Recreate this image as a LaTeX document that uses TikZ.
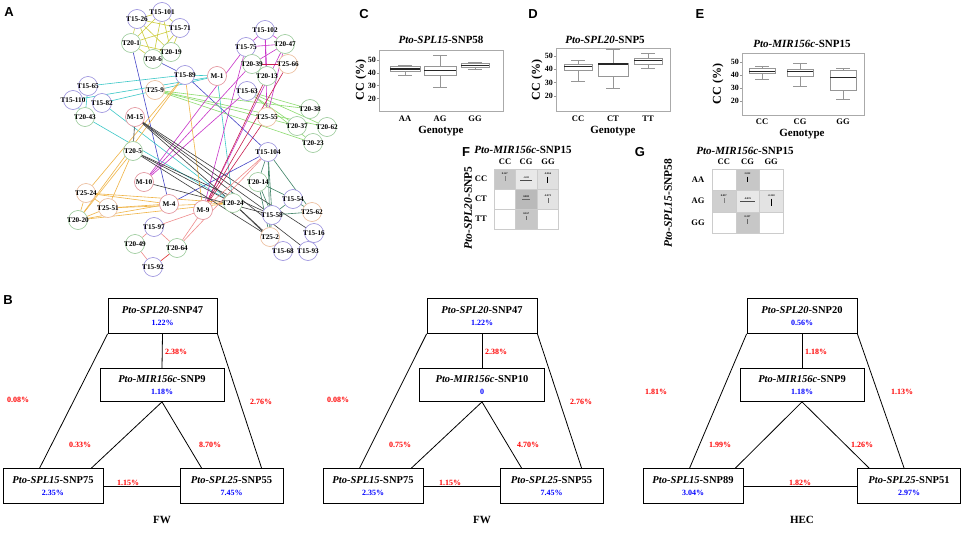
\documentclass[tikz,border=0pt]{standalone}
\usepackage{fontspec}
\setmainfont{Liberation Serif}
\newfontfamily\pan{Liberation Sans}
\usetikzlibrary{calc}
\pgfdeclarelayer{bg}\pgfdeclarelayer{edges}
\pgfsetlayers{bg,edges,main}
\definecolor{c15}{RGB}{150,140,220}
\definecolor{c20}{RGB}{150,200,150}
\definecolor{c25}{RGB}{235,185,150}
\definecolor{cM}{RGB}{225,140,150}
\definecolor{colY}{RGB}{205,205,60}
\definecolor{colB}{RGB}{70,70,200}
\definecolor{colC}{RGB}{60,200,200}
\definecolor{colG}{RGB}{140,220,110}
\definecolor{colM}{RGB}{200,50,200}
\definecolor{colR}{RGB}{200,30,80}
\definecolor{colO}{RGB}{240,180,70}
\definecolor{colK}{RGB}{60,60,60}
\definecolor{colT}{RGB}{60,130,100}
\definecolor{colP}{RGB}{240,140,140}
\definecolor{colRR}{RGB}{220,40,40}
\definecolor{pblue}{RGB}{0,0,255}
\definecolor{pred}{RGB}{255,0,0}
\definecolor{frame}{RGB}{170,170,170}
\definecolor{boxg}{RGB}{150,150,150}
\tikzset{
 nd/.style={circle,minimum size=19pt,inner sep=0pt,fill=white,line width=0.6pt,font=\fontsize{7.2}{8}\selectfont\bfseries},
 a15/.style={nd,draw=c15}, a20/.style={nd,draw=c20}, a25/.style={nd,draw=c25}, aM/.style={nd,draw=cM},
 ed/.style={line width=0.6pt},
 eY/.style={ed,draw=colY}, eB/.style={ed,draw=colB}, eC/.style={ed,draw=colC},
 eG/.style={ed,draw=colG}, eM/.style={ed,draw=colM}, eR/.style={ed,draw=colR},
 eO/.style={ed,draw=colO}, eK/.style={ed,draw=colK}, eT/.style={ed,draw=colT},
 eP/.style={ed,draw=colP}, eRR/.style={ed,draw=colRR},
 plab/.style={font=\pan\bfseries\fontsize{13}{14}\selectfont},
 ttl/.style={font=\fontsize{11}{12}\selectfont\bfseries},
 tick/.style={font=\fontsize{8}{9}\selectfont\bfseries,inner sep=1pt},
 glab/.style={font=\fontsize{8.5}{9}\selectfont\bfseries},
 axl/.style={font=\fontsize{11}{12}\selectfont\bfseries},
 ylab/.style={font=\fontsize{12}{13}\selectfont\bfseries,rotate=90},
 ylab2/.style={font=\fontsize{11.5}{13}\selectfont\bfseries,rotate=90},
 pframe/.style={draw=frame,line width=0.6pt},
 whisk/.style={draw=boxg,line width=0.5pt},
 boxl/.style={draw=boxg,line width=0.6pt,fill=white},
 medl/.style={draw=black!85,line width=1.1pt},
 cell/.style={draw=black!20,line width=0.4pt},
 tiny/.style={font=\fontsize{2.6}{3}\selectfont\bfseries,inner sep=0pt},
 hlab/.style={font=\fontsize{8.5}{9}\selectfont\bfseries},
 bx/.style={draw,line width=0.8pt,inner sep=1pt,align=center,font=\fontsize{10.5}{12}\selectfont\bfseries},
 pr/.style={text=pred,font=\fontsize{8}{9}\selectfont\bfseries,inner sep=0pt},
 tl/.style={line width=0.8pt},
}
\newcommand\anode[5]{\node[#4] (#1) at (#2,#3) {\makebox[0pt]{#5}};}
\newcommand\bxp[7]{%
 \draw[whisk] (#1,#3) -- (#1,#4) (#1,#6) -- (#1,#7);
 \draw[whisk] ({#1-7},#3) -- ({#1+7},#3) ({#1-7},#7) -- ({#1+7},#7);
 \draw[boxl] ({#1-#2},#4) rectangle ({#1+#2},#6);
 \draw[medl] ({#1-#2},#5) -- ({#1+#2},#5);}
\newcommand\gn[2]{\textit{#1}-#2}
\newcommand\bv[1]{\\[0pt]{\fontsize{8}{9}\selectfont\color{pblue}#1}}
\begin{document}
\begin{tikzpicture}[x=1pt,y=-1pt]
\begin{pgfonlayer}{bg}
\fill[white] (0,0) rectangle (964,546);
\end{pgfonlayer}
\useasboundingbox (0,0) rectangle (964,546);
% ---------------- Panel labels
\node[plab] (LA) at (9,12) {A};
\node[plab] (LB) at (8,300) {B};
\node[plab] (LC) at (364,14) {C};
\node[plab] (LD) at (533,14) {D};
\node[plab] (LE) at (700,14) {E};
\node[plab] (LF) at (466,152) {F};
\node[plab] (LG) at (640,152) {G};
% ---------------- Panel A nodes
\anode{t1526}{137}{19}{a15}{T15-26}
\anode{t15101}{162}{12}{a15}{T15-101}
\anode{t1571}{180}{28}{a15}{T15-71}
\anode{t201}{131}{43}{a20}{T20-1}
\anode{t2019}{171}{52}{a20}{T20-19}
\anode{t206}{153}{59}{a20}{T20-6}
\anode{t1589}{185}{75}{a15}{T15-89}
\anode{m1}{217}{76}{aM}{M-1}
\anode{t259}{155}{90}{a25}{T25-9}
\anode{t1565}{88}{86}{a15}{T15-65}
\anode{t15110}{73}{100}{a15}{T15-110}
\anode{t1582}{102}{103}{a15}{T15-82}
\anode{t2043}{85}{117}{a20}{T20-43}
\anode{m15}{135}{117}{aM}{M-15}
\anode{t15102}{265}{30}{a15}{T15-102}
\anode{t1575}{246}{47}{a15}{T15-75}
\anode{t2047}{285}{44}{a20}{T20-47}
\anode{t2039}{252}{64}{a20}{T20-39}
\anode{t2566}{288}{64}{a25}{T25-66}
\anode{t2013}{267}{76}{a20}{T20-13}
\anode{t1563}{247}{91}{a15}{T15-63}
\anode{t2555}{267}{117}{a25}{T25-55}
\anode{t2038}{310}{109}{a20}{T20-38}
\anode{t2037}{297}{126}{a20}{T20-37}
\anode{t2062}{327}{127}{a20}{T20-62}
\anode{t2023}{313}{143}{a20}{T20-23}
\anode{t15104}{268}{152}{a15}{T15-104}
\anode{t205}{133}{151}{a20}{T20-5}
\anode{m10}{144}{182}{aM}{M-10}
\anode{t2524}{86}{193}{a25}{T25-24}
\anode{t2551}{108}{208}{a25}{T25-51}
\anode{t2020}{78}{220}{a20}{T20-20}
\anode{m4}{169}{204}{aM}{M-4}
\anode{t1597}{154}{227}{a15}{T15-97}
\anode{t2049}{135}{244}{a20}{T20-49}
\anode{t2064}{177}{248}{a20}{T20-64}
\anode{t1592}{153}{267}{a15}{T15-92}
\anode{t2014}{258}{182}{a20}{T20-14}
\anode{m9}{203}{210}{aM}{M-9}
\anode{t2024}{233}{203}{a20}{T20-24}
\anode{t1554}{293}{199}{a15}{T15-54}
\anode{t2562}{312}{212}{a25}{T25-62}
\anode{t1558}{272}{215}{a15}{T15-58}
\anode{t1516}{314}{233}{a15}{T15-16}
\anode{t252}{270}{237}{a25}{T25-2}
\anode{t1568}{283}{251}{a15}{T15-68}
\anode{t1593}{308}{251}{a15}{T15-93}
% ---------------- Panel A edges
\begin{pgfonlayer}{edges}
\foreach \a/\b in {t1526/t15101,t1526/t1571,t1526/t201,t1526/t2019,t1526/t206,t15101/t1571,t15101/t201,t15101/t2019,t15101/t206,t1571/t201,t1571/t2019,t1571/t206,t201/t2019,t201/t206,t2019/t206}
  \draw[eY] (\a) -- (\b);
\foreach \a/\b in {t201/m4,t206/t1589,t1589/t15104,m4/t15104}
  \draw[eB] (\a) -- (\b);
\foreach \a/\b in {t1565/t1589,t15110/m1,t1582/m1,t1589/m1,t1565/t2043,t15110/t2043,t1582/t2024,t2043/t2024,m1/t2024}
  \draw[eC] (\a) -- (\b);
\foreach \a/\b in {t259/t2038,t259/t2037,t259/t2062,t259/t2023,t1563/t2038,t1563/t2037,t1563/t2062,t1563/t2023}
  \draw[eG] (\a) -- (\b);
\foreach \a/\b in {t15102/t1575,t15102/t2047,t1575/t2047,t2039/t2047,t15102/t2013,t2047/t2555,t15102/t2555,t1575/m10,t1563/m10,t2039/m10,t1575/m9,t2047/m9}
  \draw[eM] (\a) -- (\b);
\foreach \a/\b in {t2039/t2566,t2566/m9,t2013/m9,t2555/m9}
  \draw[eR] (\a) -- (\b);
\foreach \a/\b in {t1589/t2524,t1589/t2020,t1589/m9,t205/t2020,t205/t2551,t2524/t2020,t2524/t2551,t2551/t2020,t2524/m4,t2524/t2024,t2551/m4,t2551/t2024,t2020/m4,t2020/t2024}
  \draw[eO] (\a) -- (\b);
\foreach \a/\b in {m15/t205,m15/t2024,m15/t1558,m15/t1516,m15/t1593,t205/t1558,t205/t252,t205/t2024,m10/t1558,t2024/t252,t2024/t1568}
  \draw[eK] (\a) -- (\b);
\foreach \a/\b in {t15104/t2014,t15104/t1558,t15104/t2562,t15104/t252,t2014/t1554,t2014/t1558,t2014/t252,t1554/t2562,t1558/t2562,t1558/t252,t1554/t1558}
  \draw[eT] (\a) -- (\b);
\foreach \a/\b in {t1597/t2049,t1597/t2064,t2049/t1592,t1597/m9,t2064/m9,t2064/t15104,m9/t15104}
  \draw[eP] (\a) -- (\b);
\draw[eRR] (t1592) -- (t2064);
\end{pgfonlayer}
% ---------------- Panel C
\node[ttl] (tC) at (441,40) {\gn{Pto-SPL15}{SNP58}};
\draw[pframe] (379,50) rectangle (503,111);
\node[ylab] (yC) at (361,80) {CC (\%)};
\begin{scope}[shift={(0,124)},y={(0,1.28pt)}]
\foreach \v in {20,30,40,50}{\node[tick,anchor=east] at (377,\v) {\v}; \draw[boxg] (377,\v) -- (379,\v);}
\bxp{405}{15}{38}{41}{43}{45}{46}
\bxp{440}{16}{29}{38}{42}{45}{54}
\bxp{475}{14}{43}{44}{45.5}{47.5}{48}
\end{scope}
\node[glab] (gC1) at (405,119) {AA};
\node[glab] (gC2) at (440,119) {AG};
\node[glab] (gC3) at (475,119) {GG};
\node[axl] (xC) at (441,131) {Genotype};
% ---------------- Panel D
\node[ttl] (tD) at (605,40) {\gn{Pto-SPL20}{SNP5}};
\draw[pframe] (556,48) rectangle (670,111);
\node[ylab] (yD) at (537,80) {CC (\%)};
\begin{scope}[shift={(0,122.5)},y={(0,1.33pt)}]
\foreach \v in {20,30,40,50}{\node[tick,anchor=east] at (554,\v) {\v}; \draw[boxg] (554,\v) -- (556,\v);}
\bxp{578}{14}{31}{39}{42}{44}{47}
\bxp{613}{15}{26}{35}{44}{44.3}{55}
\bxp{648}{14}{41}{44}{46.5}{48}{52}
\end{scope}
\node[glab] (gD1) at (578,119) {CC};
\node[glab] (gD2) at (613,119) {CT};
\node[glab] (gD3) at (648,119) {TT};
\node[axl] (xD) at (613,131) {Genotype};
% ---------------- Panel E
\node[ttl] (tE) at (802,44) {\gn{Pto-MIR156c}{SNP15}};
\draw[pframe] (742,53) rectangle (864,115);
\node[ylab] (yE) at (718,84) {CC (\%)};
\begin{scope}[shift={(0,127)},y={(0,1.3pt)}]
\foreach \v in {20,30,40,50}{\node[tick,anchor=east] at (740,\v) {\v}; \draw[boxg] (740,\v) -- (742,\v);}
\bxp{762}{13}{37}{41}{43}{45}{47}
\bxp{800}{13}{31}{39}{43}{44.5}{49}
\bxp{843}{13}{21}{28}{38}{43.5}{45}
\end{scope}
\node[glab] (gE1) at (762,122) {CC};
\node[glab] (gE2) at (800,122) {CG};
\node[glab] (gE3) at (843,122) {GG};
\node[axl] (xE) at (802,134) {Genotype};
% ---------------- Panel F
\node[ttl] (tF) at (523,150) {\gn{Pto-MIR156c}{SNP15}};
\node[ylab2] (yF) at (468,208) {\gn{Pto-SPL20}{SNP5}};
\node[hlab] (hF1) at (505,162) {CC};
\node[hlab] (hF2) at (526,162) {CG};
\node[hlab] (hF3) at (548,162) {GG};
\node[hlab] (rF1) at (481,179) {CC};
\node[hlab] (rF2) at (481,199) {CT};
\node[hlab] (rF3) at (481,219) {TT};
\draw[cell,fill=black!22] (494,169) rectangle +(21.5,20);
\draw[cell,fill=black!9] (515.5,169) rectangle +(21.5,20);
\draw[cell,fill=black!12] (537,169) rectangle +(21.5,20);
\draw[cell,fill=white] (494,189) rectangle +(21.5,20);
\draw[cell,fill=black!27] (515.5,189) rectangle +(21.5,20);
\draw[cell,fill=black!11] (537,189) rectangle +(21.5,20);
\draw[cell,fill=white] (494,209) rectangle +(21.5,20);
\draw[cell,fill=black!22] (515.5,209) rectangle +(21.5,20);
\draw[cell,fill=white] (537,209) rectangle +(21.5,20);
\node[tiny] (f11) at (504.7,174) {0.147};
\draw[black!50,line width=0.4pt] (504.7,176) -- (504.7,181);
\node[tiny] (f12) at (526.2,178) {-0.03};
\draw[black!70,line width=0.4pt] (520,180) -- (532,180);
\node[tiny] (f13) at (547.7,174) {-0.066};
\draw[black,line width=0.9pt] (547.7,176.5) -- (547.7,183);
\node[tiny] (f22) at (526.2,197) {0.083};
\draw[black!60,line width=0.4pt] (522,199) -- (530,199);
\node[tiny] (f23) at (547.7,196) {-0.073};
\draw[black!60,line width=0.4pt] (547.7,198) -- (547.7,203);
\node[tiny] (f32) at (526.2,214) {0.167};
\draw[black!60,line width=0.4pt] (526.2,216) -- (526.2,220);
% ---------------- Panel G
\node[ttl] (tG) at (745,151) {\gn{Pto-MIR156c}{SNP15}};
\node[ylab2] (yG) at (668,203) {\gn{Pto-SPL15}{SNP58}};
\node[hlab] (hG1) at (723.8,162) {CC};
\node[hlab] (hG2) at (747.5,162) {CG};
\node[hlab] (hG3) at (771.2,162) {GG};
\node[hlab] (rG1) at (698,180) {AA};
\node[hlab] (rG2) at (698,201) {AG};
\node[hlab] (rG3) at (698,223) {GG};
\draw[cell,fill=white] (712,169) rectangle +(23.7,21.5);
\draw[cell,fill=black!22] (735.7,169) rectangle +(23.7,21.5);
\draw[cell,fill=white] (759.4,169) rectangle +(23.7,21.5);
\draw[cell,fill=black!19] (712,190.5) rectangle +(23.7,21.5);
\draw[cell,fill=black!9] (735.7,190.5) rectangle +(23.7,21.5);
\draw[cell,fill=black!11] (759.4,190.5) rectangle +(23.7,21.5);
\draw[cell,fill=white] (712,212) rectangle +(23.7,21.5);
\draw[cell,fill=black!22] (735.7,212) rectangle +(23.7,21.5);
\draw[cell,fill=white] (759.4,212) rectangle +(23.7,21.5);
\node[tiny] (g12) at (747.5,174) {2.012};
\draw[black,line width=0.9pt] (747.5,176.5) -- (747.5,182);
\node[tiny] (g21) at (723.8,196) {0.037};
\draw[black!50,line width=0.4pt] (723.8,198) -- (723.8,203);
\node[tiny] (g22) at (747.5,199) {-0.019};
\draw[black!70,line width=0.4pt] (740,201.5) -- (755,201.5);
\node[tiny] (g23) at (771.2,196) {-0.328};
\draw[black,line width=0.9pt] (771.2,198.5) -- (771.2,206);
\node[tiny] (g32) at (747.5,217) {0.237};
\draw[black!60,line width=0.4pt] (747.5,219) -- (747.5,224);
% ---------------- Panel B, triangle 1
\node[bx,minimum width=109pt,minimum height=35pt] (a1) at (162.5,316) {\gn{Pto-SPL20}{SNP47}\bv{1.22\%}};
\node[bx,minimum width=124pt,minimum height=33pt] (b1) at (162,385) {\gn{Pto-MIR156c}{SNP9}\bv{1.18\%}};
\node[bx,minimum width=100pt,minimum height=35pt] (c1) at (53,486) {\gn{Pto-SPL15}{SNP75}\bv{2.35\%}};
\node[bx,minimum width=103pt,minimum height=35pt] (d1) at (231.5,486) {\gn{Pto-SPL25}{SNP55}\bv{7.45\%}};
\draw[tl] (a1.south west) -- ([xshift=37pt]c1.north west);
\draw[tl] (a1.south east) -- ([xshift=82pt]d1.north west);
\draw[tl] (a1.south) -- (b1.north);
\draw[tl] (b1.south) -- ([xshift=-12pt]c1.north east);
\draw[tl] (b1.south) -- ([xshift=22pt]d1.north west);
\draw[tl] (c1.east) -- (d1.west);
\node[pr] (p11) at (18,400) {0.08\%};
\node[pr] (p12) at (176,352) {2.38\%};
\node[pr] (p13) at (261,402) {2.76\%};
\node[pr] (p14) at (80,445) {0.33\%};
\node[pr] (p15) at (210,445) {8.70\%};
\node[pr] (p16) at (128,483) {1.15\%};
\node[axl] (w1) at (162,520) {FW};
% ---------------- triangle 2
\node[bx,minimum width=110pt,minimum height=35pt] (a2) at (482,316) {\gn{Pto-SPL20}{SNP47}\bv{1.22\%}};
\node[bx,minimum width=125pt,minimum height=33pt] (b2) at (482,385) {\gn{Pto-MIR156c}{SNP10}\bv{0}};
\node[bx,minimum width=100pt,minimum height=35pt] (c2) at (373,486) {\gn{Pto-SPL15}{SNP75}\bv{2.35\%}};
\node[bx,minimum width=103pt,minimum height=35pt] (d2) at (551.5,486) {\gn{Pto-SPL25}{SNP55}\bv{7.45\%}};
\draw[tl] (a2.south west) -- ([xshift=37pt]c2.north west);
\draw[tl] (a2.south east) -- ([xshift=82pt]d2.north west);
\draw[tl] (a2.south) -- (b2.north);
\draw[tl] (b2.south) -- ([xshift=-12pt]c2.north east);
\draw[tl] (b2.south) -- ([xshift=22pt]d2.north west);
\draw[tl] (c2.east) -- (d2.west);
\node[pr] (p21) at (338,400) {0.08\%};
\node[pr] (p22) at (496,352) {2.38\%};
\node[pr] (p23) at (581,402) {2.76\%};
\node[pr] (p24) at (400,445) {0.75\%};
\node[pr] (p25) at (528,445) {4.70\%};
\node[pr] (p26) at (450,483) {1.15\%};
\node[axl] (w2) at (482,520) {FW};
% ---------------- triangle 3
\node[bx,minimum width=110pt,minimum height=35pt] (a3) at (802,316) {\gn{Pto-SPL20}{SNP20}\bv{0.56\%}};
\node[bx,minimum width=124pt,minimum height=33pt] (b3) at (802,385) {\gn{Pto-MIR156c}{SNP9}\bv{1.18\%}};
\node[bx,minimum width=100pt,minimum height=35pt] (c3) at (693,486) {\gn{Pto-SPL15}{SNP89}\bv{3.04\%}};
\node[bx,minimum width=103pt,minimum height=35pt] (d3) at (909,486) {\gn{Pto-SPL25}{SNP51}\bv{2.97\%}};
\draw[tl] (a3.south west) -- ([xshift=47pt]c3.north west);
\draw[tl] (a3.south east) -- ([xshift=47pt]d3.north west);
\draw[tl] (a3.south) -- (b3.north);
\draw[tl] (b3.south) -- ([xshift=-8pt]c3.north east);
\draw[tl] (b3.south) -- ([xshift=12pt]d3.north west);
\draw[tl] (c3.east) -- (d3.west);
\node[pr] (p31) at (656,392) {1.81\%};
\node[pr] (p32) at (816,352) {1.18\%};
\node[pr] (p33) at (902,392) {1.13\%};
\node[pr] (p34) at (720,445) {1.99\%};
\node[pr] (p35) at (862,445) {1.26\%};
\node[pr] (p36) at (800,483) {1.82\%};
\node[axl] (w3) at (802,520) {HEC};
\end{tikzpicture}
\end{document}
